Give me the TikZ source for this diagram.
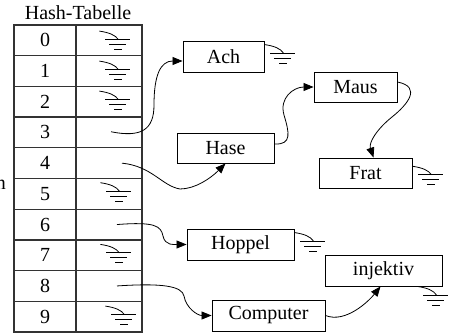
\documentclass[tikz,border=0pt]{standalone}
\usepackage{fontspec}
\setmainfont{Liberation Serif}
\usetikzlibrary{arrows.meta,calc}
\tikzset{
  txt/.style={font=\fontsize{20}{24}\selectfont},
  cell/.style={draw=black!80, line width=1.2pt, inner sep=0pt, minimum height=30.7pt, txt},
  numcell/.style={cell, minimum width=62pt},
  ptrcell/.style={cell, minimum width=66pt},
  listbox/.style={draw, line width=0.9pt, inner sep=0pt, txt},
  conn/.style={line width=0.8pt, -{Triangle[length=10pt,width=8pt]}},
  gnd/.pic={
    \draw[line width=0.8pt] (0,0) .. controls (10,1.5) and (16,4) .. (19,8.5);
    \draw[line width=0.9pt] (6,8.5) -- (31,8.5);
    \draw[line width=0.9pt] (10,13.5) -- (27,13.5);
    \draw[line width=0.9pt] (15,18.5) -- (23,18.5);
  }
}
\begin{document}
\begin{tikzpicture}[x=1pt,y=-1pt]
\useasboundingbox (0,0) rectangle (452,334);
\node[txt] (title) at (78,13) {Hash-Tabelle};
\foreach \i in {0,...,9}{
  \node[numcell] (c\i) at (45,{25+30.7*\i+15.35}) {\i};
  \node[ptrcell] (p\i) at (109,{25+30.7*\i+15.35}) {};
}
% list boxes
\node[listbox, minimum width=81pt, minimum height=31pt] (Ach) at (223.5,56.5) {Ach};
\node[listbox, minimum width=83pt, minimum height=30pt] (Maus) at (355.5,87) {Maus};
\node[listbox, minimum width=97pt, minimum height=30pt] (Hase) at (225.5,148) {Hase};
\node[listbox, minimum width=93pt, minimum height=30pt] (Frat) at (365.5,173) {Frat};
\node[listbox, minimum width=107pt, minimum height=31pt] (Hoppel) at (240.5,244.5) {Hoppel};
\node[listbox, minimum width=117pt, minimum height=31pt] (injektiv) at (383.5,270.5) {injektiv};
\node[listbox, minimum width=113pt, minimum height=31pt] (Computer) at (268.5,315.5) {Computer};
% clipped fragment at left edge
\node[txt, anchor=base east, inner sep=0pt] (frag) at (6,189) {n};
% ground symbols in table
\pic at ($(p0.north west)+(24,6.7)$) {gnd};
\pic at ($(p1.north west)+(24,6)$) {gnd};
\pic at ($(p2.north west)+(24,5.3)$) {gnd};
\pic at ($(p5.north west)+(25,4.8)$) {gnd};
\pic at ($(p7.north west)+(25,5.1)$) {gnd};
\pic at ($(p9.north west)+(30,5.4)$) {gnd};
% ground symbols at list ends
\pic at ($(Ach.north east)+(0,4)$) {gnd};
\pic at ($(Frat.north east)+(0,8.7)$) {gnd};
\pic at ($(Hoppel.north east)+(0,4)$) {gnd};
\pic at ($(injektiv.south east)+(-25,0)$) {gnd};
% connectors
\draw[conn] ($(p3.center)+(2,-0.7)$) .. controls +(30,6) and +(0,25) .. (154,105)
  .. controls +(0,-30) and +(-22,0) .. ($(Ach.west)+(0,4.5)$);
\draw[conn] ($(p4.center)+(13,0)$) .. controls +(30,3) and +(-18,-3) .. (180,189)
  .. controls +(15,0) and +(-15,15) .. (Hase.south);
\draw[conn] ($(Hase.east)+(0,-4)$) .. controls +(18,1) and +(5,17) .. (284,115)
  .. controls +(-5,-17) and +(-20,0) .. (Maus.west);
\draw[conn] ($(Maus.east)+(0,-5)$) .. controls +(25,5) and +(15,-12) .. (392,117)
  .. controls +(-15,12) and +(-5,-15) .. ($(Frat.north)+(8,0)$);
\draw[conn] ($(p6.center)+(8,0)$) .. controls +(38,-3) and +(-2,-10) .. (163,236)
  .. controls +(2,10) and +(-12,0) .. (Hoppel.west);
\draw[conn] ($(p8.center)+(8,0)$) .. controls +(45,-3) and +(-2,-10) .. (184,296)
  .. controls +(2,12) and +(-14,0) .. (Computer.west);
\draw[conn] (Computer.east) .. controls +(20,8) and +(-12,15) .. ($(injektiv.south)+(-3,0)$);
\end{tikzpicture}
\end{document}
